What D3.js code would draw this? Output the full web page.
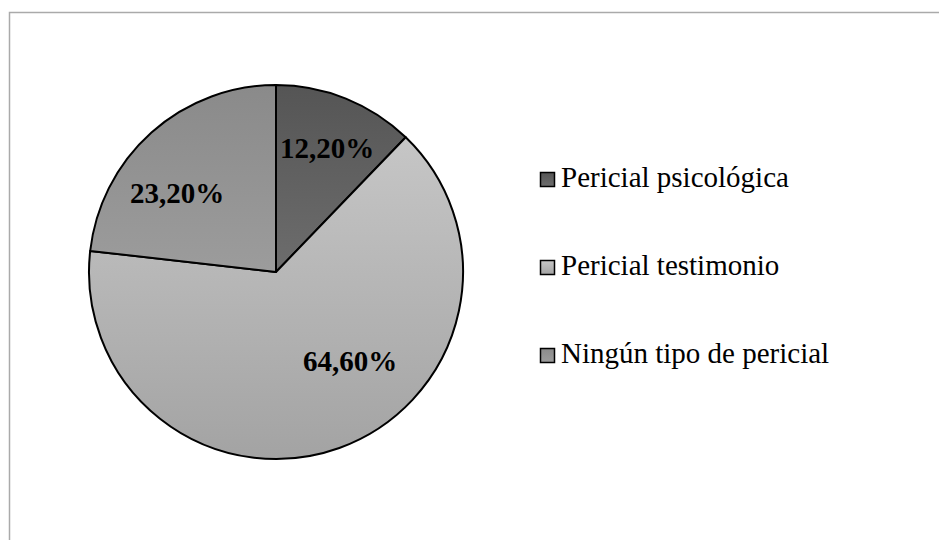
<!DOCTYPE html>
<html>
<head>
<meta charset="utf-8">
<script src="https://cdn.jsdelivr.net/npm/d3@7"></script>
<style>
body { margin: 0; background: #fff; }
.lbl { font-family: "Liberation Serif", "Times New Roman", serif; font-weight: bold; font-size: 29px; fill: #000; }
.leg { font-family: "Liberation Serif", "Times New Roman", serif; font-size: 29px; fill: #000; }
</style>
</head>
<body>
<svg id="chart" width="939" height="540"></svg>
<script>
var categories = ["Pericial psicológica", "Pericial testimonio", "Ningún tipo de pericial"];
var values = [12.2, 64.6, 23.2];
// top / bottom of each slice's vertical gradient
var shadeTop = ["#555555", "#c6c6c6", "#8a8a8a"];
var shadeBottom = ["#6d6d6d", "#a3a3a3", "#9c9c9c"];

var svg = d3.select("#chart"),
    width = +svg.attr("width"),
    height = +svg.attr("height");

var es = d3.formatLocale({decimal: ",", thousands: ".", grouping: [3], currency: ["", "€"]});
var fmt = es.format(".2f");

// chart frame
svg.append("rect")
  .attr("x", 9.5).attr("y", 12.5)
  .attr("width", width).attr("height", height)
  .attr("fill", "none")
  .attr("stroke", "#aaaaaa")
  .attr("stroke-width", 1.5);

var defs = svg.append("defs");
categories.forEach(function(c, i) {
  var g = defs.append("linearGradient")
    .attr("id", "grad" + i)
    .attr("x1", 0).attr("y1", 0).attr("x2", 0).attr("y2", 1);
  g.append("stop").attr("offset", "0%").attr("stop-color", shadeTop[i]);
  g.append("stop").attr("offset", "100%").attr("stop-color", shadeBottom[i]);
});

var cx = 276, cy = 272, r = 187;

var pie = d3.pie().sort(null).value(function(d) { return d; });
var arc = d3.arc().innerRadius(0).outerRadius(r);

var g = svg.append("g").attr("transform", "translate(" + cx + "," + cy + ")");
var arcs = pie(values);

g.selectAll("path")
  .data(arcs)
  .enter().append("path")
  .attr("d", arc)
  .attr("fill", function(d, i) { return "url(#grad" + i + ")"; })
  .attr("stroke", "#000")
  .attr("stroke-width", 2)
  .attr("stroke-linejoin", "round");

// label baselines, relative to the pie centre
var labelPos = [[51, -114], [74, 99], [-99, -69]];
g.selectAll("text")
  .data(arcs)
  .enter().append("text")
  .attr("class", "lbl")
  .attr("text-anchor", "middle")
  .attr("x", function(d, i) { return labelPos[i][0]; })
  .attr("y", function(d, i) { return labelPos[i][1]; })
  .text(function(d) { return fmt(d.data) + "%"; });

var legend = svg.append("g")
  .selectAll("g")
  .data(categories)
  .enter().append("g")
  .attr("transform", function(d, i) { return "translate(540," + (172 + i * 88) + ")"; });

legend.append("rect")
  .attr("x", 0.5).attr("y", 0.5)
  .attr("width", 14).attr("height", 14)
  .attr("fill", function(d, i) { return "url(#grad" + i + ")"; })
  .attr("stroke", "#000")
  .attr("stroke-width", 1.5);

legend.append("text")
  .attr("class", "leg")
  .attr("x", 21)
  .attr("y", 15)
  .text(function(d) { return d; });
</script>
</body>
</html>
